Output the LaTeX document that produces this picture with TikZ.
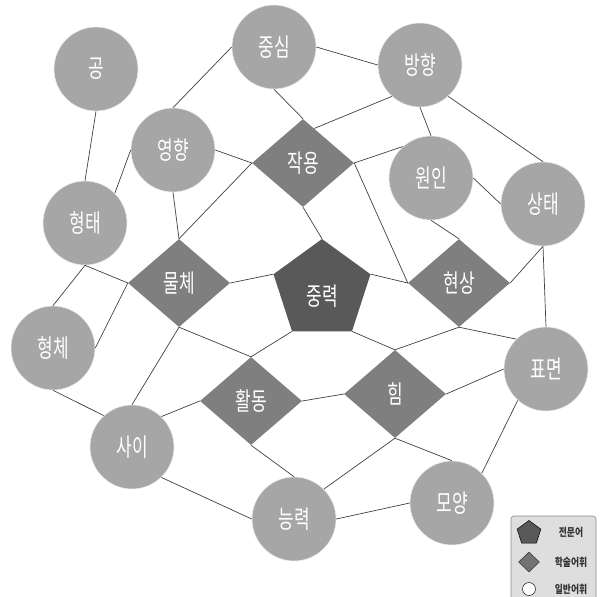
\documentclass[tikz,border=0pt]{standalone}
\usepackage{fontspec}
\newfontfamily\kr[FakeStretch=0.68]{Noto Sans CJK KR}
\newfontfamily\krleg[FakeStretch=0.8]{Noto Sans CJK KR}
\usetikzlibrary{shapes.geometric}
\definecolor{cgray}{HTML}{A6A6A6}
\definecolor{dgray}{HTML}{7F7F7F}
\definecolor{pgray}{HTML}{595959}
\definecolor{lgray}{HTML}{404040}
\definecolor{boxgray}{HTML}{DEDEDE}
\begin{document}
\begin{tikzpicture}[x=1pt,y=-1pt,
  word/.style={circle,fill=cgray,draw=white!80!cgray,line width=0.6pt,minimum size=84pt,inner sep=0pt,text=white,font=\kr\fontsize{25}{25}\selectfont},
  acad/.style={diamond,fill=dgray,minimum width=102pt,minimum height=88pt,aspect=1.16,inner sep=0pt,text=white,font=\kr\fontsize{25}{25}\selectfont},
  tech/.style={regular polygon,regular polygon sides=5,fill=pgray,minimum size=102pt,inner sep=0pt},
  techtext/.style={text=white,font=\kr\fontsize{25}{25}\selectfont,inner sep=0pt},
  link/.style={draw=lgray,line width=0.7pt},
  legtext/.style={text=black!80,font=\krleg\bfseries\fontsize{11}{11}\selectfont,inner sep=0pt}]
\useasboundingbox (0,0) rectangle (600,597);
% general words
\node[word] (gong) at (96,69) {공};
\node[word] (jungsim) at (274,47) {중심};
\node[word] (yeonghyang) at (173,150) {영향};
\node[word] (hyeongtae) at (85,223) {형태};
\node[word] (banghyang) at (420,65) {방향};
\node[word] (wonin) at (431,178) {원인};
\node[word] (sangtae) at (543,204) {상태};
\node[word] (hyeongche) at (53,348) {형체};
\node[word] (sai) at (132,447) {사이};
\node[word] (neung) at (294,519) {능력};
\node[word] (moyang) at (452,503) {모양};
\node[word] (pyomyeon) at (546,369) {표면};
% academic words
\node[acad] (jak) at (303,163) {작용};
\node[acad] (mul) at (179,283) {물체};
\node[acad] (hyeon) at (459,283) {현상};
\node[acad] (hwal) at (251,401) {활동};
\node[acad] (him) at (395,394) {힘};
% technical word
\node[tech] (jr) at (322,290) {};
\node[techtext] (jrtext) at (322,296) {중력};
% connectors
\draw[link] (gong.-90) -- (hyeongtae.90);
\draw[link] (jungsim.180) -- (yeonghyang.90);
\draw[link] (yeonghyang.180) -- (hyeongtae.45);
\draw[link] (yeonghyang.0) -- (jak.west);
\draw[link] (yeonghyang.-90) -- (mul.north);
\draw[link] (mul.north) -- (jak.west);
\draw[link] (jungsim.-90) -- (jak.north);
\draw[link] (hyeongtae.-90) -- (mul.west);
\draw[link] (hyeongtae.-90) -- (hyeongche.90);
\draw[link] (mul.west) -- (hyeongche.0);
\draw[link] (jungsim.0) -- (banghyang.180);
\draw[link] (banghyang.228) -- (jak.72);
\draw[link] (banghyang.-90) -- (wonin.90);
\draw[link] (banghyang.-48) -- (sangtae.90);
\draw[link] (jak.east) -- (wonin.132);
\draw[link] (jak.east) -- (hyeon.west);
\draw[link] (wonin.0) -- (sangtae.180);
\draw[link] (wonin.-90) -- (hyeon.north);
\draw[link] (hyeon.east) -- (sangtae.-90);
\draw[link] (sangtae.-90) -- (pyomyeon.90);
\draw[link] (jak.south) -- (jr.corner 1);
\draw[link] (jr.corner 5) -- (hyeon.west);
\draw[link] (mul.east) -- (jr.corner 2);
\draw[link] (hyeongche.-90) -- (sai.132);
\draw[link] (mul.south) -- (sai.90);
\draw[link] (mul.south) -- (hwal.north);
\draw[link] (hwal.north) -- (jr.corner 3);
\draw[link] (sai.46) -- (hwal.west);
\draw[link] (sai.-46) -- (neung.180);
\draw[link] (hwal.south) -- (neung.90);
\draw[link] (jr.corner 4) -- (him.north);
\draw[link] (him.north) -- (hyeon.south);
\draw[link] (hyeon.south) -- (pyomyeon.135);
\draw[link] (hwal.east) -- (him.west);
\draw[link] (him.east) -- (pyomyeon.180);
\draw[link] (him.south) -- (neung.45);
\draw[link] (him.south) -- (moyang.90);
\draw[link] (neung.0) -- (moyang.180);
\draw[link] (moyang.45) -- (pyomyeon.228);
% legend
\draw[draw=black!45,fill=boxgray,rounded corners=3pt,line width=0.6pt] (511,516) rectangle (596,615);
\node[regular polygon,regular polygon sides=5,minimum size=25pt,inner sep=0pt,fill=black!65,draw=black,line width=0.5pt] (legtech) at (529,533) {};
\node[diamond,minimum width=21pt,minimum height=20pt,inner sep=0pt,fill=black!55,draw=black!80,line width=0.5pt] (legacad) at (529,562) {};
\node[circle,minimum size=13pt,inner sep=0pt,fill=white,draw=black!80,line width=0.6pt] (legword) at (529,589) {};
\node[legtext] (legtechtext) at (571,532) {전문어};
\node[legtext] (legacadtext) at (571,562) {학술어휘};
\node[legtext] (legwordtext) at (571,589) {일반어휘};
\end{tikzpicture}
\end{document}
